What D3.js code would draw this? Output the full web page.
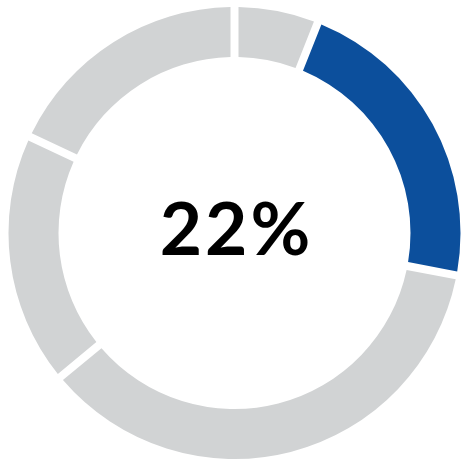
<!DOCTYPE html>
<html>
<head>
<meta charset="utf-8">
<script src="https://cdn.jsdelivr.net/npm/d3@7"></script>
<style>
  html, body { margin: 0; padding: 0; background: #fff; }
  svg { display: block; }
</style>
</head>
<body>
<script>
const w = 469; // SVG width
const h = 468; // SVG height

// ring segments, clockwise from 12 o'clock (percent)
const segments = ["a", "highlight", "c", "d", "e"];
const values = [6, 22, 36, 18, 18];
const highlight = "highlight";
const centerLabel = "22%";

const cx = 234.5, cy = 233;
const outerR = 226, innerR = 176;

const svg = d3.select("body")
  .append("svg")
  .attr("width", w)
  .attr("height", h);

const g = svg.append("g")
  .attr("transform", `translate(${cx}, ${cy})`);

const pie = d3.pie().sort(null).value((d, i) => values[i]);

const arc = d3.arc()
  .innerRadius(innerR)
  .outerRadius(outerR)
  .padRadius(outerR)
  .padAngle(8 / outerR); // ~8px parallel gaps

g.selectAll("path")
  .data(pie(segments))
  .enter()
  .append("path")
  .attr("d", arc)
  .attr("fill", d => d.data === highlight ? "#0c4f9c" : "#d1d3d4");

g.append("text")
  .attr("x", 2)
  .attr("y", 22)
  .attr("text-anchor", "middle")
  .style("font-family", "Lato, 'Noto Sans', sans-serif")
  .style("font-weight", 700)
  .style("font-size", "73px")
  .style("letter-spacing", "3px")
  .attr("fill", "#000")
  .text(centerLabel);
</script>
</body>
</html>
